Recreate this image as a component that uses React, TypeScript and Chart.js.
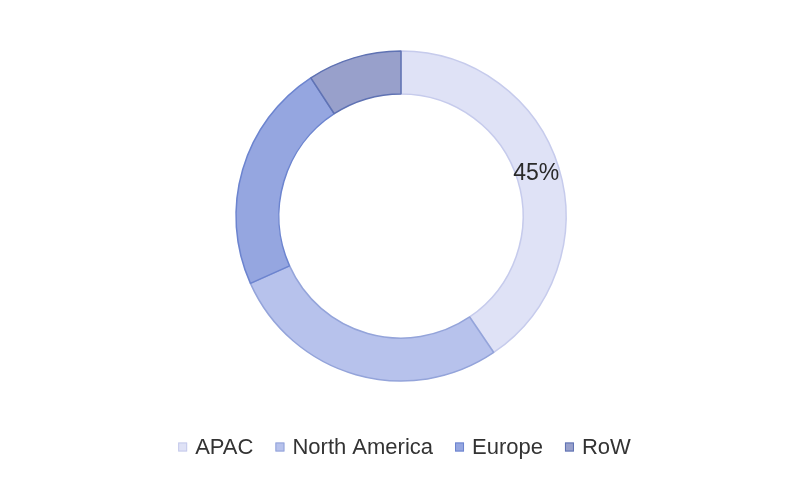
import React, { useEffect, useRef } from "react";
import { Chart, registerables } from "chart.js";

Chart.register(...registerables);

const categories = ["APAC", "North America", "Europe", "RoW"];
const shares = [40.5, 27.8, 22.5, 9.2];
const sliceLabels = ["45%", "", "", ""];
const fillColors = ["#dfe2f6", "#b7c2ec", "#95a6e0", "#98a0cb"];
const borderColors = ["#c6cbec", "#94a4da", "#6c84cf", "#5f72b3"];

const FONT = "'Liberation Sans', Arial, sans-serif";

const sliceLabelPlugin = {
  id: "sliceLabels",
  afterDatasetsDraw(chart: any) {
    const ctx = chart.ctx;
    const meta = chart.getDatasetMeta(0);
    ctx.save();
    ctx.font = `23px ${FONT}`;
    ctx.fillStyle = "#2a2a2a";
    ctx.textAlign = "center";
    ctx.textBaseline = "middle";
    meta.data.forEach((arc: any, i: number) => {
      const t = sliceLabels[i];
      if (!t) return;
      const p = arc.tooltipPosition();
      ctx.fillText(t, p.x - 2, p.y);
    });
    ctx.restore();
  },
};

const customLegendPlugin = {
  id: "customLegend",
  afterDraw(chart: any) {
    const ctx = chart.ctx;
    ctx.save();
    ctx.font = `22px ${FONT}`;
    const box = 9;
    const gap = 8;
    const spacing = 22;
    const widths = categories.map((c) => ctx.measureText(c).width);
    const total =
      widths.reduce((a, b) => a + b, 0) +
      categories.length * (box + gap) +
      (categories.length - 1) * spacing;
    let x = 404.5 - total / 2;
    const y = 447;
    ctx.textBaseline = "middle";
    ctx.textAlign = "left";
    categories.forEach((c, i) => {
      ctx.fillStyle = fillColors[i];
      ctx.strokeStyle = borderColors[i];
      ctx.lineWidth = 1;
      ctx.fillRect(x, y - box / 2, box, box);
      ctx.strokeRect(x + 0.5, y - box / 2 + 0.5, box - 1, box - 1);
      x += box + gap;
      ctx.fillStyle = "#333333";
      ctx.fillText(c, x, y + 1);
      x += widths[i] + spacing;
    });
    ctx.restore();
  },
};

export default function App() {
  const ref = useRef<HTMLCanvasElement | null>(null);
  useEffect(() => {
    document.body.style.margin = "0";
    if (!ref.current) return;
    const chart = new Chart(ref.current, {
      type: "doughnut",
      data: {
        labels: categories,
        datasets: [
          {
            data: shares,
            backgroundColor: fillColors,
            borderColor: borderColors,
            borderWidth: 1.5,
            radius: 165,
          } as any,
        ],
      },
      options: {
        responsive: false,
        animation: false,
        cutout: "74%",
        layout: { padding: { left: 2, right: 0, top: 0, bottom: 49 } },
        plugins: {
          legend: { display: false },
          tooltip: { enabled: false },
        },
      },
      plugins: [sliceLabelPlugin, customLegendPlugin],
    });
    return () => chart.destroy();
  }, []);
  return (
    <div style={{ width: 800, height: 481, background: "#ffffff" }}>
      <canvas ref={ref} width={800} height={481} />
    </div>
  );
}
